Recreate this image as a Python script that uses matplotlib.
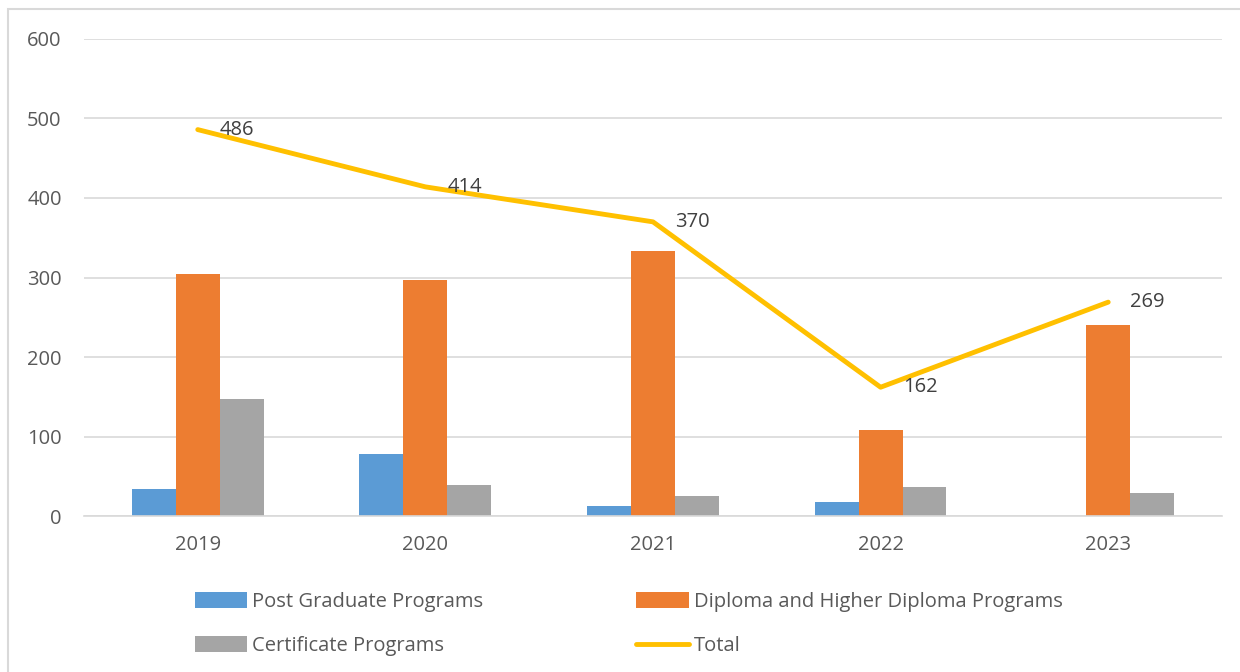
import matplotlib.pyplot as plt
import numpy as np
from matplotlib.patches import Rectangle

years = ['2019', '2020', '2021', '2022', '2023']
post_graduate = [34, 78, 12, 18, 0]
diploma = [305, 297, 333, 108, 240]
certificate = [147, 39, 25, 36, 29]
total = [486, 414, 370, 162, 269]

plt.rcParams['font.family'] = ['Open Sans', 'DejaVu Sans']
text_color = '#595959'

fig = plt.figure(figsize=(12.4, 6.72), dpi=100)
ax = fig.add_axes([0.0677, 0.2321, 0.9178, 0.7099])

x = np.arange(len(years))
w = 0.193
ax.bar(x - w, post_graduate, w, color='#5B9BD5', label='Post Graduate Programs', zorder=2)
ax.bar(x, diploma, w, color='#ED7D31', label='Diploma and Higher Diploma Programs', zorder=2)
ax.bar(x + w, certificate, w, color='#A5A5A5', label='Certificate Programs', zorder=2)
ax.plot(x, total, color='#FFC000', linewidth=3.5, solid_capstyle='round', label='Total', zorder=3)

for xi, t in zip(x, total):
    ax.annotate(str(t), (xi, t), xytext=(16, 0), textcoords='offset points',
                va='center', ha='left', fontsize=14.5, color='#404040', zorder=4)

ax.set_xlim(-0.5, 4.5)
ax.set_ylim(0, 600)
ax.set_yticks(range(0, 601, 100))
ax.set_xticks(x)
ax.set_xticklabels(years)
ax.yaxis.grid(True, color='#D9D9D9', linewidth=1.2, zorder=0)
ax.tick_params(axis='both', length=0, labelsize=14.5, labelcolor=text_color)
ax.tick_params(axis='y', pad=16)
ax.tick_params(axis='x', pad=14)
for side in ['top', 'right', 'left']:
    ax.spines[side].set_visible(False)
ax.spines['bottom'].set_color('#D9D9D9')
ax.spines['bottom'].set_linewidth(1.2)

# legend fills column-wise: [PG, Cert] then [Diploma, Total]
handles, labels = ax.get_legend_handles_labels()
order = [1, 3, 2, 0]
fig.legend([handles[i] for i in order], [labels[i] for i in order], ncol=2,
           loc='center', bbox_to_anchor=(0.507, 0.0714), frameon=False,
           fontsize=14.5, labelcolor=text_color, handlelength=2.6, handleheight=0.85,
           handletextpad=0.25, columnspacing=7.6, labelspacing=1.2)

fig.patches.append(Rectangle((8 / 1240, -0.01), 1.0, 1 - 9 / 672 + 0.01, transform=fig.transFigure,
                             fill=False, edgecolor='#D9D9D9', linewidth=1.5))

fig.savefig('out.png', dpi=100)
